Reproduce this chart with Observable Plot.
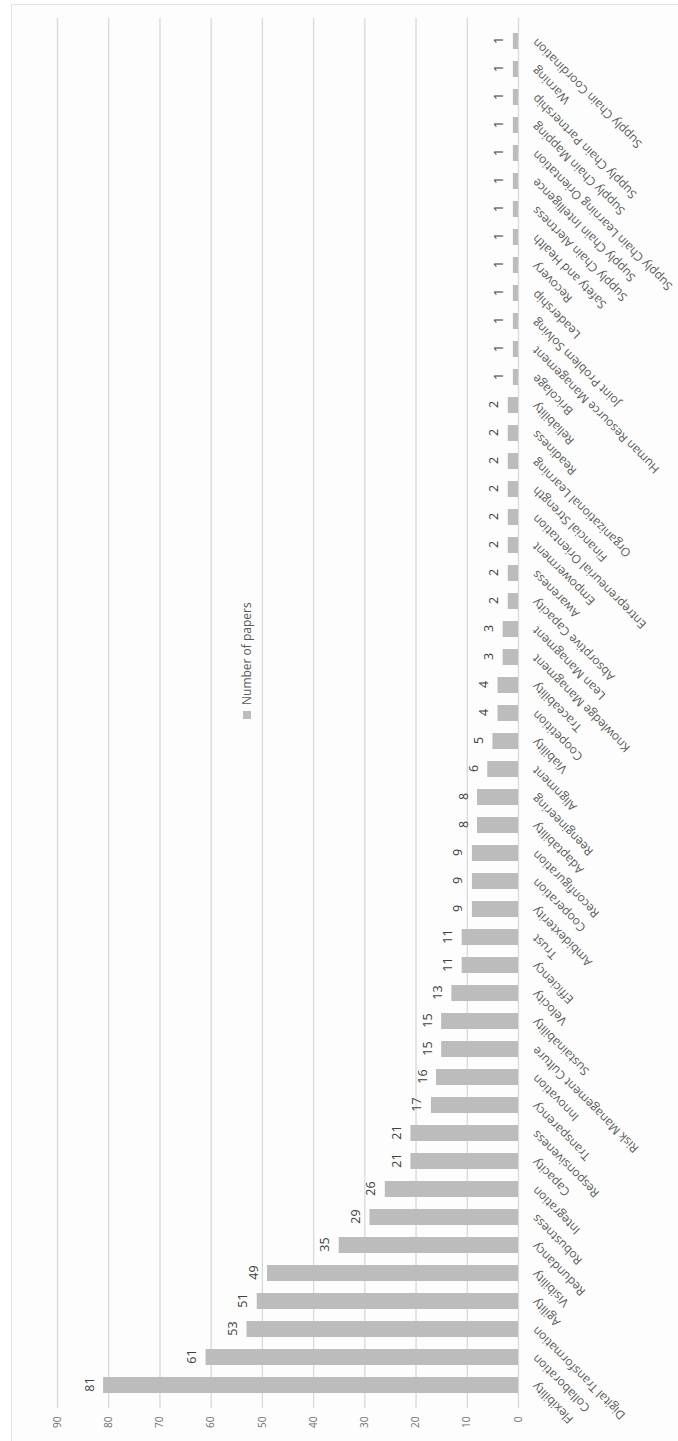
<!DOCTYPE html>
<html>
<head>
<meta charset="utf-8">
<script src="https://cdn.jsdelivr.net/npm/d3@7"></script>
<script src="https://cdn.jsdelivr.net/npm/@observablehq/plot@0.6"></script>
<style>
  html, body { margin: 0; padding: 0; background: #ffffff; }
  body { width: 678px; height: 1441px; overflow: hidden; position: relative; font-family: "Open Sans", sans-serif; }
  #frame { position: absolute; left: 11px; top: 4px; width: 700px; height: 1460px; border: 1.5px solid #e3e3e3; box-sizing: border-box; background: #fdfdfd; }
  /* the column chart is laid out landscape, then turned a quarter turn */
  #turn { position: absolute; left: 0; top: 0; width: 1441px; height: 678px;
          transform-origin: 0 0; transform: translate(0, 1441px) rotate(-90deg); }
  #legend { position: absolute; }
</style>
</head>
<body>
<div id="frame"></div>
<div id="turn"></div>
<script>
// Resilience capabilities and the number of papers addressing each
const topics = [
  "Flexibility", "Collaboration", "Digital Transformation", "Agility", "Visibility",
  "Redundancy", "Robustness", "Integration", "Capacity", "Responsiveness",
  "Transparency", "Innovation", "Risk Management Culture", "Sustainability", "Velocity",
  "Efficiency", "Trust", "Ambidexterity", "Cooperation", "Reconfiguration",
  "Adaptability", "Reengineering", "Alignment", "Viability", "Coopetition",
  "Traceability", "Knowledge Managment", "Lean Managment", "Absorptive Capacity", "Awareness",
  "Empowerment", "Entrepreneurial Orientation", "Financial Strength", "Organizational Learning", "Readiness",
  "Reliability", "Bricolage", "Human Resource Management", "Joint Problem Solving", "Leadership",
  "Recovery", "Safety and Health", "Supply Chain Alertness", "Supply Chain Intelligence", "Supply Chain Learning Orientation",
  "Supply Chain Mapping", "Supply Chain Partnership", "Warning", "Supply Chain Coordination"
];
const papers = [
  81, 61, 53, 51, 49,
  35, 29, 26, 21, 21,
  17, 16, 15, 15, 13,
  11, 11, 9, 9, 9,
  8, 8, 6, 5, 4,
  4, 3, 3, 2, 2,
  2, 2, 2, 2, 2,
  2, 1, 1, 1, 1,
  1, 1, 1, 1, 1,
  1, 1, 1, 1
];
const valueTicks = [0, 10, 20, 30, 40, 50, 60, 70, 80, 90];
const seriesName = "Number of papers";

const rows = topics.map((topic, i) => ({topic, papers: papers[i]}));
const barColor = "#bcbcbc";

const chart = Plot.plot({
  width: 1441,
  height: 678,
  marginTop: 57,
  marginBottom: 160,
  marginLeft: 33,
  marginRight: 18,
  style: {fontFamily: "'Open Sans', sans-serif", background: "transparent", overflow: "visible"},
  x: {domain: topics, paddingInner: 0.42, paddingOuter: 0.21, axis: null},
  y: {domain: [0, 90], axis: null},
  marks: [
    Plot.gridY(valueTicks, {stroke: "#d9d9d9", strokeOpacity: 1, strokeWidth: 1.3}),
    Plot.barY(rows, {x: "topic", y: "papers", fill: barColor}),
    Plot.text(rows, {x: "topic", y: "papers", text: d => String(d.papers), dy: -14,
                     fill: "#404040", fontSize: 12.5, lineAnchor: "middle"}),
    Plot.axisY({ticks: valueTicks, tickSize: 0, tickPadding: 9, fontSize: 10, fill: "#707070", label: null}),
    Plot.axisX({tickSize: 0, tickRotate: -45, tickPadding: 16, fontSize: 12, fill: "#595959", label: null})
  ]
});

const turn = document.getElementById("turn");
turn.appendChild(chart);

const legend = Plot.legend({
  color: {type: "ordinal", domain: [seriesName], range: [barColor]},
  swatchSize: 8,
  style: {fontFamily: "'Open Sans', sans-serif", fontSize: "12px", color: "#595959", background: "transparent"}
});
legend.id = "legend";
legend.style.left = "722px";
legend.style.top = "230px";
turn.appendChild(legend);
</script>
</body>
</html>
